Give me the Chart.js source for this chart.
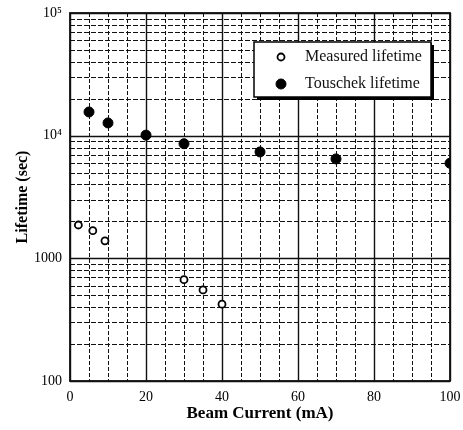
<!DOCTYPE html>
<html><head><meta charset="utf-8">
<script src="https://cdn.jsdelivr.net/npm/chart.js@4"></script>
<style>html,body{margin:0;padding:0;background:#fff}#wrap{width:463px;height:430px}</style>
</head><body><div id="wrap"><canvas id="c" width="463" height="430"></canvas></div>
<script>
const measuredCurrent = [2.2, 6, 9.2, 30, 35, 40];
const measuredLifetime = [1870, 1680, 1390, 670, 553, 423];
const touschekCurrent = [5, 10, 20, 30, 50, 70, 100];
const touschekLifetime = [15600, 12700, 10100, 8600, 7370, 6460, 5960];
const xTickValues = [0, 20, 40, 60, 80, 100];
const yTickValues = [100, 1000, 10000, 100000];
const yTickLabels = ['100', '1000', '10\u2074', '10\u2075'];
const seriesLabels = ['Measured lifetime', 'Touschek lifetime'];

const SERIF = '"Liberation Serif", "Times New Roman", serif';

const gridPlugin = {
  id: 'paperGrid',
  beforeDatasetsDraw(chart) {
    const {ctx, chartArea: a, scales: {x, y}} = chart;
    ctx.save();
    ctx.strokeStyle = '#111';
    for (let v = 0; v <= 100; v += 5) {
      const px = Math.round(x.getPixelForValue(v)) + 0.5;
      const major = v % 20 === 0;
      ctx.setLineDash(major ? [] : [4, 2]);
      ctx.lineWidth = major ? 1.4 : 1;
      ctx.beginPath(); ctx.moveTo(px, a.top); ctx.lineTo(px, a.bottom); ctx.stroke();
    }
    for (let d = 100; d <= 100000; d *= 10) {
      for (let m = 1; m <= 9; m++) {
        const v = m * d;
        if (v > 100000) break;
        const py = Math.round(y.getPixelForValue(v)) + 0.5;
        const major = m === 1;
        ctx.setLineDash(major ? [] : [5, 2]);
        ctx.lineWidth = major ? 1.6 : 1.1;
        ctx.beginPath(); ctx.moveTo(a.left, py); ctx.lineTo(a.right, py); ctx.stroke();
      }
    }
    ctx.setLineDash([]);
    ctx.lineWidth = 1.8;
    ctx.strokeRect(a.left, a.top, a.right - a.left, a.bottom - a.top);
    ctx.restore();
  }
};

const legendPlugin = {
  id: 'boxLegend',
  afterDatasetsDraw(chart) {
    const {ctx, chartArea: a} = chart;
    const bx = a.right - 196, by = a.top + 29, bw = 177, bh = 55;
    ctx.save();
    ctx.fillStyle = '#000';
    ctx.fillRect(bx + 3, by + 3, bw, bh);
    ctx.fillStyle = '#fff';
    ctx.fillRect(bx, by, bw, bh);
    ctx.strokeStyle = '#000';
    ctx.lineWidth = 1.5;
    ctx.strokeRect(bx, by, bw, bh);
    const rows = [by + 15, by + 42];
    chart.data.datasets.forEach((ds, i) => {
      const cx = bx + 27, cy = rows[i];
      ctx.beginPath();
      ctx.arc(cx, cy, ds.pointRadius, 0, Math.PI * 2);
      ctx.fillStyle = ds.backgroundColor;
      ctx.fill();
      ctx.lineWidth = ds.borderWidth;
      ctx.strokeStyle = ds.borderColor;
      ctx.stroke();
      ctx.fillStyle = '#111';
      ctx.font = '16px ' + SERIF;
      ctx.textAlign = 'left';
      ctx.textBaseline = 'middle';
      ctx.fillText(ds.label, bx + 51, cy);
    });
    ctx.restore();
  }
};

new Chart(document.getElementById('c'), {
  type: 'scatter',
  data: {
    datasets: [
      {
        label: seriesLabels[0],
        data: measuredCurrent.map((c, i) => ({x: c, y: measuredLifetime[i]})),
        pointRadius: 3.5,
        pointHoverRadius: 3.5,
        backgroundColor: '#fff',
        borderColor: '#000',
        borderWidth: 1.8
      },
      {
        label: seriesLabels[1],
        data: touschekCurrent.map((c, i) => ({x: c, y: touschekLifetime[i]})),
        pointRadius: 5,
        pointHoverRadius: 5,
        backgroundColor: '#000',
        borderColor: '#000',
        borderWidth: 1
      }
    ]
  },
  options: {
    responsive: false,
    animation: false,
    devicePixelRatio: 1,
    layout: {padding: {top: 13, right: 13, left: 0, bottom: 0}},
    plugins: {legend: {display: false}, tooltip: {enabled: false}},
    scales: {
      x: {
        type: 'linear', min: 0, max: 100,
        afterBuildTicks: s => { s.ticks = xTickValues.map(v => ({value: v})); },
        afterFit: s => { s.height = 49; s.paddingLeft = 0; s.paddingRight = 0; },
        grid: {display: false, drawTicks: false},
        border: {display: false},
        ticks: {
          autoSkip: false, maxRotation: 0, padding: 8, color: '#000',
          font: {family: SERIF, size: 14},
          callback: v => String(v)
        },
        title: {
          display: true, text: 'Beam Current (mA)', color: '#000',
          font: {family: SERIF, size: 17, weight: 'bold'},
          padding: {top: 0, bottom: 6}
        }
      },
      y: {
        type: 'logarithmic', min: 100, max: 100000,
        afterBuildTicks: s => { s.ticks = yTickValues.map(v => ({value: v})); },
        afterFit: s => { s.width = 70; s.paddingTop = 0; s.paddingBottom = 0; },
        grid: {display: false, drawTicks: false},
        border: {display: false},
        ticks: {
          autoSkip: false, padding: 8, color: '#000',
          font: {family: SERIF, size: 14},
          callback: (v, i) => yTickLabels[i]
        },
        title: {
          display: true, text: 'Lifetime (sec)', color: '#000',
          font: {family: SERIF, size: 16, weight: 'bold'},
          padding: {top: 13, bottom: 0}
        }
      }
    }
  },
  plugins: [gridPlugin, legendPlugin]
});
</script>
</body></html>
